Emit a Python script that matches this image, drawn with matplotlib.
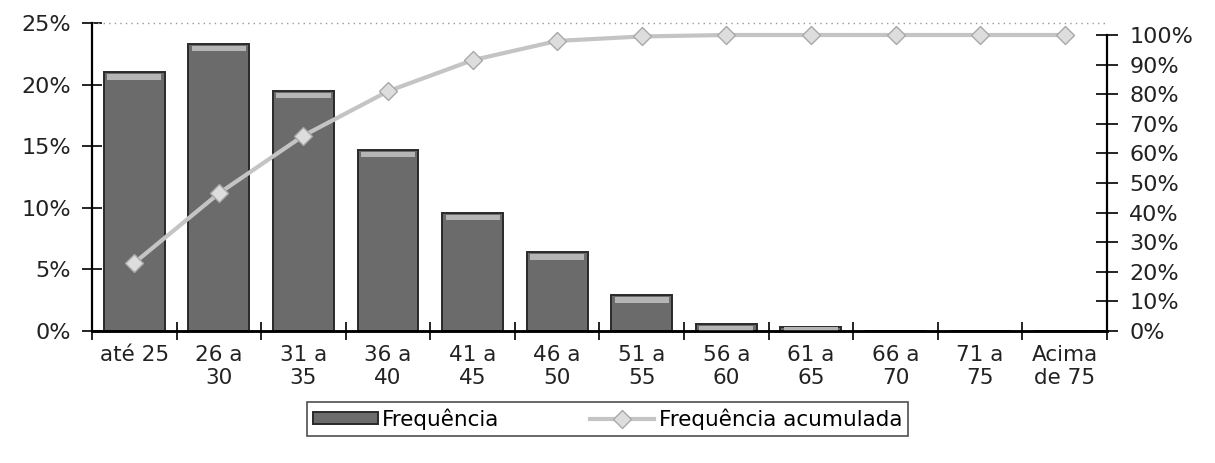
import matplotlib
matplotlib.use("Agg")
import matplotlib.pyplot as plt
from matplotlib.ticker import FixedLocator, PercentFormatter
import numpy as np

categories = ["até 25", "26 a\n30", "31 a\n35", "36 a\n40", "41 a\n45", "46 a\n50",
              "51 a\n55", "56 a\n60", "61 a\n65", "66 a\n70", "71 a\n75", "Acima\nde 75"]
frequencia = [21.0, 23.3, 19.5, 14.7, 9.6, 6.4, 2.9, 0.6, 0.3, 0.0, 0.0, 0.0]
acumulada = [23.0, 46.5, 66.0, 81.0, 91.5, 98.0, 99.5, 100.0, 100.0, 100.0, 100.0, 100.0]
left_ticks = [0, 5, 10, 15, 20, 25]
right_ticks = [0, 10, 20, 30, 40, 50, 60, 70, 80, 90, 100]

plt.rcParams['font.family'] = ['DejaVu Sans']
fig = plt.figure(figsize=(12.15, 4.63), dpi=100)
ax = fig.add_axes([0.0757, 0.285, 0.8354, 0.665])
ax2 = ax.twinx()

x = np.arange(len(categories))
ax.bar(x, frequencia, width=0.72, color="#6b6b6b", edgecolor="#2a2a2a", linewidth=1.4,
       label="Frequência", zorder=2)
# lighter top band (Excel bevel look)
ax.bar(x, [min(0.45, f) for f in frequencia], bottom=[max(f - 0.6, 0) for f in frequencia],
       width=0.64, color="#b5b5b5", edgecolor="none", zorder=3)

ax.set_xlim(-0.5, len(categories) - 0.5)
ax.set_ylim(0, 25)
ax.yaxis.set_major_locator(FixedLocator(left_ticks))
ax.yaxis.set_major_formatter(PercentFormatter(decimals=0))
ax.set_xticks(x)
ax.set_xticklabels(categories, fontsize=15.5, color="#222222", linespacing=1.2)
ax.tick_params(axis='x', length=0, pad=10)
ax.set_xticks(np.arange(-0.5, len(categories), 1.0), minor=True)
ax.tick_params(axis='x', which='minor', direction='inout', length=13, width=1.2)
ax.tick_params(axis='y', direction='inout', length=14, width=1.2, labelsize=16,
               labelcolor="#222222", pad=8)

ax2.plot(x, acumulada, color="#c4c4c4", linewidth=3, marker="D", markersize=9,
         markerfacecolor="#dddddd", markeredgecolor="#a8a8a8", label="Frequência acumulada",
         zorder=4)
ax2.set_ylim(0, 104)
ax2.yaxis.set_major_locator(FixedLocator(right_ticks))
ax2.yaxis.set_major_formatter(PercentFormatter(decimals=0))
ax2.tick_params(axis='y', direction='inout', length=16, width=1.2, labelsize=16,
                labelcolor="#222222", pad=8)

for a in (ax, ax2):
    a.spines['top'].set_visible(False)
    a.spines['left'].set_linewidth(1.6)
    a.spines['right'].set_linewidth(1.6)
    a.spines['bottom'].set_linewidth(1.8)
ax2.spines['right'].set_bounds(0, 100)
ax2.spines['left'].set_visible(False)
ax.spines['right'].set_visible(False)
ax.axhline(25, color="#999999", linestyle=(0, (1, 3)), linewidth=1, clip_on=False)

h1, l1 = ax.get_legend_handles_labels()
h2, l2 = ax2.get_legend_handles_labels()
leg = fig.legend(h1 + h2, l1 + l2, loc="center", bbox_to_anchor=(0.5, 0.095), ncol=2,
                 fontsize=15.5, frameon=True, fancybox=False, edgecolor="#222222",
                 handlelength=3.0, columnspacing=4.2, borderpad=0.3, handletextpad=0.2,
                 handleheight=0.5, borderaxespad=0.2)
leg.get_frame().set_linewidth(1.2)

fig.savefig("out.png", dpi=100)
